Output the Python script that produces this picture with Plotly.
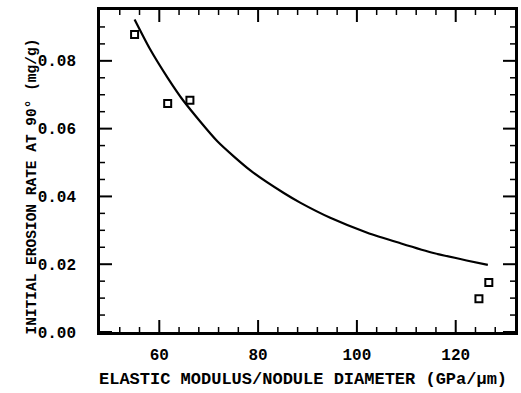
import plotly.graph_objects as go

# Measured points (open squares)
pts_x = [55.0, 61.7, 66.2, 124.7, 126.7]
pts_y = [0.0878, 0.0674, 0.0684, 0.0098, 0.0146]

# Fitted curve
curve_x = [55.0, 58.0, 61.7, 65.0, 71.8, 78.5, 85.2, 88.6, 94.6, 102.1, 108.8, 115.5, 122.2, 126.5]
curve_y = [0.0922, 0.0838, 0.0750, 0.0680, 0.0562, 0.0476, 0.0410, 0.0381, 0.0337, 0.0293, 0.0262, 0.0233, 0.0211, 0.0198]

x_range = [48, 132]
y_range = [0, 0.095]
x_major = [60, 80, 100, 120]
y_major = [0.00, 0.02, 0.04, 0.06, 0.08]
x_minor = [v for v in range(52, 132, 4) if v not in x_major]
y_minor = [round(i * 0.005, 3) for i in range(1, 19) if round(i * 0.005, 3) not in y_major]

x_title = "ELASTIC MODULUS/NODULE DIAMETER (GPa/\u00b5m)"
y_title = "INITIAL EROSION RATE AT 90\u00b0 (mg/g)"

FONT = "Liberation Mono"

fig = go.Figure()
fig.add_trace(go.Scatter(x=curve_x, y=curve_y, mode="lines",
                         line=dict(color="black", width=2.2, shape="spline", smoothing=0.6),
                         showlegend=False, hoverinfo="skip"))
fig.add_trace(go.Scatter(x=pts_x, y=pts_y, mode="markers",
                         marker=dict(symbol="square-open", size=7, color="black",
                                     line=dict(width=2, color="black")),
                         showlegend=False))

labels_font = dict(family=FONT, size=16, color="black", weight="bold")
frame = dict(showgrid=False, zeroline=False, showline=True, linecolor="black",
             linewidth=2.5, mirror=True, ticks="", tickfont=labels_font)

fig.update_layout(
    xaxis=dict(range=x_range, tickmode="array", tickvals=x_major,
               ticktext=[str(v) for v in x_major], ticklabelstandoff=6, **frame),
    yaxis=dict(range=y_range, tickmode="array", tickvals=y_major,
               ticktext=["%.2f" % v for v in y_major], ticklabelstandoff=18, **frame),
)

# inward-pointing tick marks on all four sides (pixel lengths)
def xtick(v, length, width):
    for edge, sign in ((y_range[0], 1), (y_range[1], -1)):
        fig.add_shape(type="line", xref="x", yref="y", x0=v, x1=v,
                      ysizemode="pixel", yanchor=edge, y0=0, y1=sign * length,
                      line=dict(color="black", width=width))

def ytick(v, length, width):
    for edge, sign in ((x_range[0], 1), (x_range[1], -1)):
        fig.add_shape(type="line", xref="x", yref="y", y0=v, y1=v,
                      xsizemode="pixel", xanchor=edge, x0=0, x1=sign * length,
                      line=dict(color="black", width=width))

for v in x_major:
    xtick(v, 12, 2)
for v in x_minor:
    xtick(v, 5, 1.5)
for v in y_major:
    ytick(v, 12, 2)
for v in y_minor:
    ytick(v, 5, 1.5)

fig.add_annotation(text=x_title, xref="paper", yref="paper", x=0.488, y=-0.149,
                   xanchor="center", yanchor="middle", showarrow=False,
                   font=dict(family=FONT, size=17, color="black", weight="bold"))
fig.add_annotation(text=y_title, xref="paper", yref="paper", x=-0.163, y=0.453,
                   xanchor="center", yanchor="middle", showarrow=False, textangle=-90,
                   font=dict(family=FONT, size=14.5, color="black", weight="bold"))

fig.update_layout(width=521, height=393, margin=dict(l=100, r=3, t=10, b=61),
                  paper_bgcolor="white", plot_bgcolor="white")

fig.write_html("out.html")
